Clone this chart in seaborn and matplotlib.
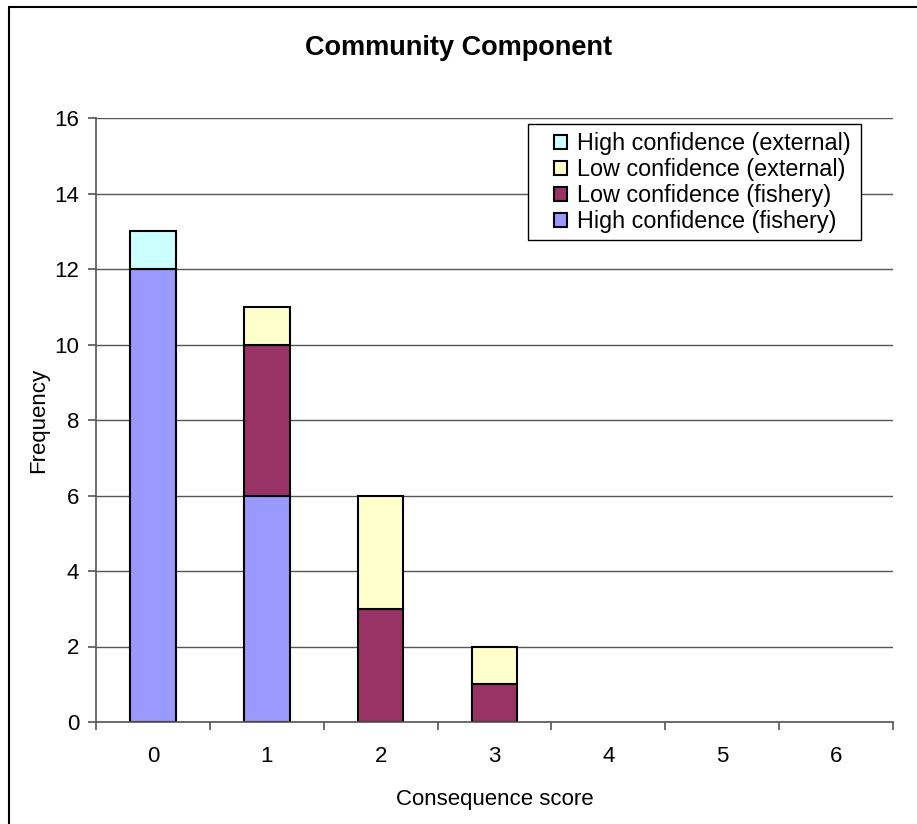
import matplotlib
matplotlib.use("Agg")
import matplotlib.pyplot as plt
from matplotlib.patches import Patch, Rectangle
from matplotlib.lines import Line2D
import numpy as np
import pandas as pd
import seaborn as sns

# Consequence score categories and stacked frequencies
scores = ["0", "1", "2", "3", "4", "5", "6"]
high_conf_fishery = [12, 6, 0, 0, 0, 0, 0]
low_conf_fishery = [0, 4, 3, 1, 0, 0, 0]
low_conf_external = [0, 1, 3, 1, 0, 0, 0]
high_conf_external = [1, 0, 0, 0, 0, 0, 0]

series = [
    ("High confidence (fishery)", high_conf_fishery, "#9999FF"),
    ("Low confidence (fishery)", low_conf_fishery, "#993366"),
    ("Low confidence (external)", low_conf_external, "#FFFFCC"),
    ("High confidence (external)", high_conf_external, "#CCFFFF"),
]

sns.set_theme(style="white")
plt.rcParams["font.family"] = ["Liberation Sans", "DejaVu Sans"]
plt.rcParams["text.color"] = "black"
plt.rcParams["axes.labelcolor"] = "black"
plt.rcParams["xtick.color"] = "black"
plt.rcParams["ytick.color"] = "black"

FS = 16
W, H = 917, 824

fig = plt.figure(figsize=(W / 100, H / 100), dpi=100)
ax = fig.add_axes([96 / W, 1 - 722 / H, 797 / W, 604 / H])

# chart-area border (left and top edges)
bx, by = 8.5 / W, 1 - 6.5 / H
fig.add_artist(Line2D([bx, bx], [0, by], color="black", linewidth=1.5,
                      transform=fig.transFigure))
fig.add_artist(Line2D([bx, 1], [by, by], color="black", linewidth=1.5,
                      transform=fig.transFigure))

bottom = np.zeros(len(scores))
for name, vals, color in series:
    df = pd.DataFrame({"score": scores, "freq": vals})
    sns.barplot(data=df, x="score", y="freq", order=scores, color=color,
                bottom=bottom.copy(), width=0.4, edgecolor="black",
                linewidth=1.5, saturation=1, ax=ax, errorbar=None)
    bottom += np.array(vals, dtype=float)

for p in ax.patches:
    if p.get_height() == 0:
        p.set_visible(False)

ax.set_xlim(-0.5, 6.5)
ax.set_ylim(0, 16)
ax.set_yticks(np.arange(0, 17, 2))
ax.yaxis.grid(True, color="#555555", linewidth=1)
ax.set_axisbelow(True)

for s in ["top", "right"]:
    ax.spines[s].set_visible(False)
for s in ["left", "bottom"]:
    ax.spines[s].set_color("#555555")
    ax.spines[s].set_linewidth(1.2)

ax.set_xticks(np.arange(-0.5, 7, 1), minor=True)
ax.tick_params(axis="x", which="major", length=0, pad=17, labelsize=FS,
               labelcolor="black")
ax.tick_params(axis="x", which="minor", length=6, width=1.2, color="#555555",
               direction="out", bottom=True)
ax.tick_params(axis="y", which="major", length=6, width=1.2, color="#555555",
               direction="out", left=True, labelsize=FS, pad=6,
               labelcolor="black")

ax.set_xlabel("Consequence score", fontsize=FS, labelpad=16, color="black")
ax.set_ylabel("Frequency", fontsize=FS, labelpad=4, color="black")
fig.suptitle("Community Component", fontsize=19.5, fontweight="bold",
             y=0.958, color="black")

# legend box
x0 = (528 - 96) / 797
x1 = (861 - 96) / 797
y1 = (722 - 124) / 604
y0 = (722 - 240) / 604
ax.add_patch(Rectangle((x0, y0), x1 - x0, y1 - y0, transform=ax.transAxes,
                       facecolor="white", edgecolor="black", linewidth=1,
                       zorder=4))

handles = [Patch(facecolor=c, edgecolor="black", linewidth=1.5, label=n)
           for n, _, c in reversed(series)]
leg = ax.legend(handles=handles, loc="upper left",
                bbox_to_anchor=((547 - 96) / 797, 0.988),
                fontsize=16.8, frameon=False, handlelength=0.55,
                handleheight=0.55, handletextpad=0.45, labelspacing=0.13,
                borderpad=0.3, borderaxespad=0, labelcolor="black")
leg.set_zorder(5)

fig.savefig("out.png", dpi=100)
